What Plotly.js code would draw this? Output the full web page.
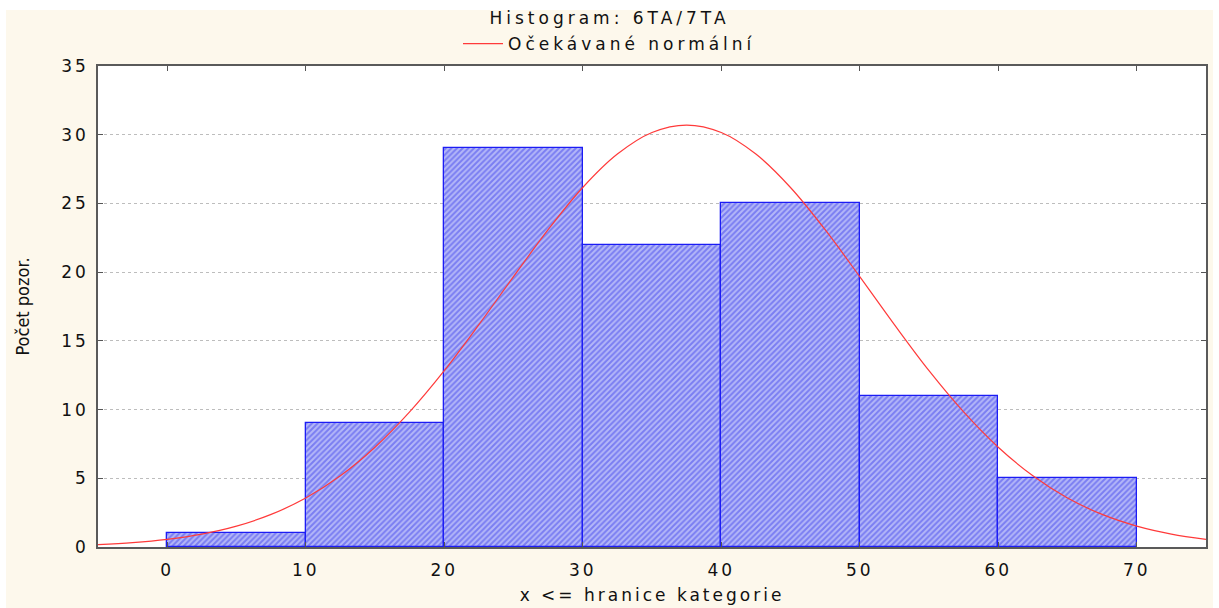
<!DOCTYPE html>
<html>
<head>
<meta charset="utf-8">
<script src="https://cdn.plot.ly/plotly-3.0.1.min.js"></script>
<style>
  html, body { margin: 0; padding: 0; background: #ffffff; }
  #plot { width: 1219px; height: 608px; }
  .gtitle, .legendtext { letter-spacing: 4px; }
  .xtick text, .ytick text { letter-spacing: 3px; }
  .xtitle { letter-spacing: 3px; }
  .ytitle { letter-spacing: 0px; }
</style>
</head>
<body>
<div id="plot"></div>
<script>
// Histogram bins (lower edge of each category) and observed counts
var binStart = [0, 10, 20, 30, 40, 50, 60];
var counts = [1, 9, 29, 22, 25, 11, 5];

// Expected normal curve
var curveX = [-5, -2.5, 0, 2.5, 5, 7.5, 10, 12.5, 15, 17.5, 20, 22.5, 25, 27.5, 30, 32.5, 35, 37.5,
              40, 42.5, 45, 47.5, 50, 52.5, 55, 57.5, 60, 62.5, 65, 67.5, 70, 72.5, 75];
var curveY = [0.18, 0.32, 0.56, 0.94, 1.52, 2.37, 3.56, 5.18, 7.26, 9.83, 12.83, 16.18, 19.67, 23.09, 26.16, 28.59, 30.16, 30.7,
              30.16, 28.59, 26.16, 23.09, 19.67, 16.18, 12.83, 9.83, 7.26, 5.18, 3.56, 2.37, 1.52, 0.94, 0.56];

var xTicks = [0, 10, 20, 30, 40, 50, 60, 70];
var yTicks = [0, 5, 10, 15, 20, 25, 30, 35];

var titleText = 'Histogram: 6TA/7TA';
var legendText = 'Očekávané normální';
var xTitle = 'x &lt;= hranice kategorie';
var yTitle = 'Počet pozor.';

var wide = 'DejaVu Sans, Liberation Sans, Arial, sans-serif';
var narrow = 'Liberation Sans Narrow, DejaVu Sans Condensed, Arial Narrow, sans-serif';
var ink = '#111111';

var traces = [
  {
    type: 'bar',
    x: binStart,
    y: counts,
    width: 10,
    offset: 0,
    showlegend: false,
    hoverinfo: 'x+y',
    marker: {
      color: '#a9acf6',
      line: { color: '#1c1cf5', width: 1.3 },
      pattern: { shape: '/', fgcolor: '#4044ec', bgcolor: '#b4b7f8', size: 4, solidity: 0.5, fillmode: 'overlay' }
    }
  },
  {
    type: 'scatter',
    mode: 'lines',
    x: curveX,
    y: curveY,
    name: legendText,
    line: { color: '#ff3a3a', width: 1.2, shape: 'spline', smoothing: 1 }
  }
];

var layout = {
  width: 1219,
  height: 608,
  margin: { l: 98, r: 13, t: 66, b: 61, pad: 0 },
  paper_bgcolor: '#ffffff',
  plot_bgcolor: '#ffffff',
  bargap: 0,
  font: { family: wide, size: 17, color: ink },
  title: {
    text: titleText,
    font: { family: wide, size: 17, color: ink },
    x: 0.5, xref: 'container', xanchor: 'center',
    y: 1 - 18 / 608, yref: 'container', yanchor: 'middle'
  },
  showlegend: true,
  legend: {
    orientation: 'h',
    x: 0.5, xref: 'container', xanchor: 'center',
    y: 1 - 44 / 608, yref: 'container', yanchor: 'middle',
    bgcolor: 'rgba(0,0,0,0)',
    font: { family: wide, size: 17, color: ink },
    itemwidth: 40
  },
  xaxis: {
    range: [-5, 75],
    tickvals: xTicks,
    ticktext: xTicks.map(String),
    ticks: 'inside',
    ticklen: 5,
    tickcolor: '#555555',
    showgrid: false,
    zeroline: false,
    showline: true,
    linecolor: '#5a5a5a',
    linewidth: 1.5,
    mirror: 'ticks',
    ticklabelstandoff: 7,
    tickfont: { family: wide, size: 17, color: ink },
    title: { text: xTitle, font: { family: wide, size: 17, color: ink }, standoff: 10 }
  },
  yaxis: {
    range: [0, 35],
    tickvals: yTicks,
    ticktext: yTicks.map(String),
    ticks: 'inside',
    ticklen: 5,
    tickcolor: '#555555',
    showgrid: true,
    gridcolor: '#bdbdbd',
    griddash: 'dot',
    gridwidth: 1,
    zeroline: false,
    showline: true,
    linecolor: '#5a5a5a',
    linewidth: 1.5,
    mirror: 'ticks',
    ticklabelstandoff: 4,
    tickfont: { family: wide, size: 17, color: ink },
    title: { text: yTitle, font: { family: narrow, size: 18, color: ink }, standoff: 27 }
  },
  shapes: [
    {
      type: 'rect', xref: 'paper', yref: 'paper', layer: 'below',
      x0: (6 - 98) / 1108, x1: (1213 - 98) / 1108,
      y0: (547 - 608) / 481, y1: (547 - 10) / 481,
      fillcolor: '#fdf8ec', line: { width: 0 }
    },
    {
      type: 'rect', xref: 'paper', yref: 'paper', layer: 'below',
      x0: 0, x1: 1, y0: 0, y1: 1,
      fillcolor: '#ffffff', line: { width: 0 }
    }
  ]
};

Plotly.newPlot('plot', traces, layout, { displayModeBar: false, responsive: false });
</script>
</body>
</html>
